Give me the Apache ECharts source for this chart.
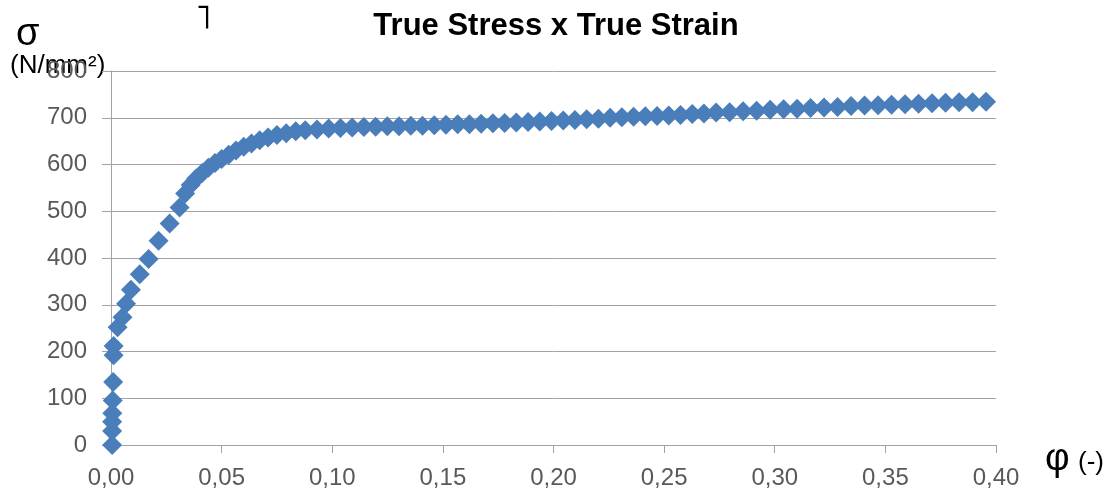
<!DOCTYPE html>
<html>
<head>
<meta charset="utf-8">
<script src="https://cdn.jsdelivr.net/npm/echarts@6/dist/echarts.min.js"></script>
<style>
html,body{margin:0;padding:0;background:#fff;}
#chart{width:1112px;height:492px;}
</style>
</head>
<body>
<div id="chart"></div>
<script>
var chartTitle = 'True Stress x True Strain';
var yAxisSymbol = 'σ';
var yAxisUnit = '(N/mm²)';
var xAxisSymbol = 'φ';
var xAxisUnit = '(-)';
var strayMark = '˥';

var strainValues = [
  0.0005, 0.0005, 0.0005, 0.0006, 0.0008, 0.0010, 0.0012, 0.0012,
  0.0030, 0.0052, 0.0068, 0.0090, 0.0130, 0.0170, 0.0215, 0.0265,
  0.0310, 0.0335, 0.0360, 0.0385, 0.0412, 0.0440, 0.0470, 0.0500,
  0.0532, 0.0565, 0.0600, 0.0635, 0.0672, 0.0710, 0.0750, 0.0792,
  0.0835, 0.0878, 0.0931, 0.0984, 0.1037, 0.1090, 0.1143, 0.1196,
  0.1249, 0.1302, 0.1355, 0.1408, 0.1461, 0.1514, 0.1567, 0.1620,
  0.1673, 0.1726, 0.1779, 0.1832, 0.1885, 0.1938, 0.1991, 0.2044,
  0.2097, 0.2150, 0.2203, 0.2256, 0.2309, 0.2362, 0.2415, 0.2468,
  0.2521, 0.2574, 0.2627, 0.2680, 0.2735, 0.2796, 0.2857, 0.2918,
  0.2979, 0.3040, 0.3101, 0.3162, 0.3223, 0.3284, 0.3345, 0.3406,
  0.3467, 0.3528, 0.3589, 0.3650, 0.3711, 0.3772, 0.3833, 0.3894,
  0.3955
];
var stressValues = [
  0, 30, 50, 68, 95, 135, 192, 212,
  252, 273, 302, 332, 365, 398, 437, 474,
  508, 538, 556, 570, 582, 593, 603, 612,
  621, 630, 638, 645, 652, 658, 663, 667,
  671, 673, 675, 677, 678, 679, 680, 681,
  682, 682, 683, 683, 684, 685, 686, 686,
  687, 688, 689, 690, 691, 692, 693, 694,
  695, 697, 698, 700, 701, 702, 703, 704,
  705, 706, 708, 709, 711, 712, 714, 715,
  717, 718, 719, 721, 722, 723, 725, 726,
  727, 728, 729, 730, 731, 732, 733, 733,
  734
];
var xTicks = { min: 0, max: 0.4, interval: 0.05 };
var yTicks = { min: 0, max: 800, interval: 100 };

var points = strainValues.map(function (x, i) { return [x, stressValues[i]]; });

var chart = echarts.init(document.getElementById('chart'), null, { renderer: 'canvas' });
var gridColor = '#a3a3a3';
var labelColor = '#595959';
var fontFam = '"Liberation Sans", Arial, sans-serif';

chart.setOption({
  animation: false,
  backgroundColor: '#ffffff',
  title: {
    text: chartTitle,
    left: 'center',
    top: 6,
    textStyle: { fontFamily: fontFam, fontWeight: 'bold', fontSize: 31, color: '#000' }
  },
  grid: { left: 111, right: 116, top: 71, bottom: 47, containLabel: false },
  xAxis: {
    type: 'value',
    min: xTicks.min, max: xTicks.max, interval: xTicks.interval,
    axisLine: { show: true, lineStyle: { color: gridColor, width: 1 } },
    axisTick: { show: true, length: 8, lineStyle: { color: gridColor } },
    splitLine: { show: false },
    axisLabel: {
      margin: 21,
      color: labelColor, fontFamily: fontFam, fontSize: 24,
      formatter: function (v) { return v.toFixed(2).replace('.', ','); }
    }
  },
  yAxis: {
    type: 'value',
    min: yTicks.min, max: yTicks.max, interval: yTicks.interval,
    axisLine: { show: true, lineStyle: { color: gridColor, width: 1 } },
    axisTick: { show: true, length: 9, lineStyle: { color: gridColor } },
    splitLine: { show: true, lineStyle: { color: gridColor, width: 1 } },
    axisLabel: { margin: 24, color: labelColor, fontFamily: fontFam, fontSize: 24 }
  },
  series: [{
    type: 'scatter',
    data: points,
    symbol: 'diamond',
    symbolSize: 20,
    itemStyle: { color: '#4a7ebb', opacity: 1 }
  }],
  graphic: [
    { type: 'text', left: 16, top: 16, style: { text: yAxisSymbol, fontFamily: fontFam, fontSize: 38, fill: '#000' } },
    { type: 'text', left: 10, top: 53, style: { text: yAxisUnit, fontFamily: fontFam, fontSize: 26, fill: '#000' } },
    { type: 'text', left: 195, top: 2, style: { text: strayMark, fontFamily: '"DejaVu Sans", sans-serif', fontSize: 34, fill: '#000' } },
    { type: 'text', left: 1045, top: 441, style: { text: xAxisSymbol, fontFamily: fontFam, fontSize: 38, fill: '#000' } },
    { type: 'text', left: 1078, top: 450, style: { text: xAxisUnit, fontFamily: fontFam, fontSize: 26, fill: '#000' } }
  ]
});
</script>
</body>
</html>
